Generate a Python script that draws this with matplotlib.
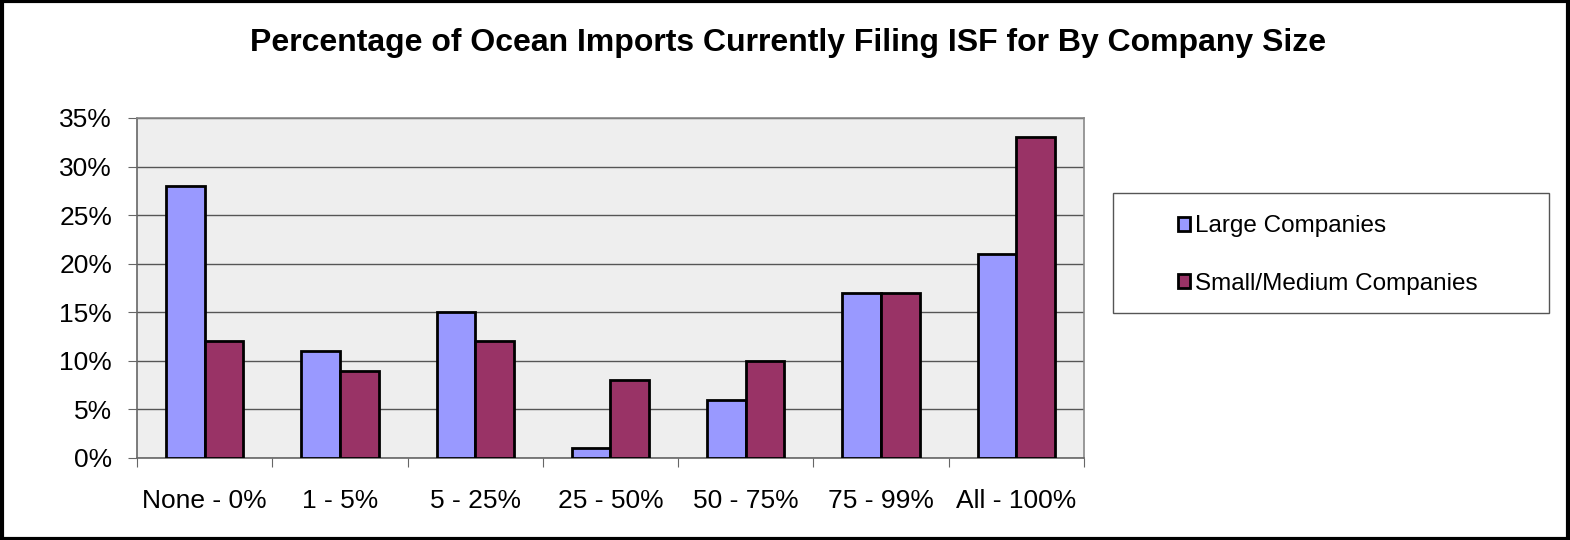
import matplotlib
matplotlib.use("Agg")
import matplotlib.pyplot as plt
import numpy as np
from matplotlib.patches import Rectangle

categories = ["None - 0%", "1 - 5%", "5 - 25%", "25 - 50%", "50 - 75%", "75 - 99%", "All - 100%"]
large = [28, 11, 15, 1, 6, 17, 21]
small_medium = [12, 9, 12, 8, 10, 17, 33]
series_names = ["Large Companies", "Small/Medium Companies"]
yticks = [0, 5, 10, 15, 20, 25, 30, 35]

plt.rcParams['font.family'] = ['Liberation Sans', 'DejaVu Sans']

fig = plt.figure(figsize=(15.7, 5.4), dpi=100)
ax = fig.add_axes([0.0873, 0.1519, 0.6031, 0.6296])
ax.set_facecolor("#EEEEEE")

x = np.arange(len(categories))
w = 0.285
b1 = ax.bar(x - w/2, large, w, color="#9999FF", edgecolor="black", linewidth=2, label=series_names[0], zorder=3)
b2 = ax.bar(x + w/2, small_medium, w, color="#993366", edgecolor="black", linewidth=2, label=series_names[1], zorder=3)

ax.set_xlim(-0.5, len(categories) - 0.5)
ax.set_ylim(0, 35)
ax.set_yticks(yticks)
ax.set_yticklabels([f"{v}%" for v in yticks], fontsize=19)
ax.yaxis.grid(True, color="#555555", linewidth=1, zorder=0)
ax.set_axisbelow(True)

ax.set_xticks(np.arange(len(categories) + 1) - 0.5)
ax.set_xticklabels([])
ax.set_xticks(x, minor=True)
ax.set_xticklabels(categories, minor=True, fontsize=19)
ax.tick_params(axis='x', which='minor', length=0, pad=22.5)
ax.tick_params(axis='x', which='major', length=6.5, color="#666666", direction='out')
ax.tick_params(axis='y', length=6.5, color="#666666", direction='out', pad=11.5)

for s in ["top", "right"]:
    ax.spines[s].set_color("#888888")
for s in ["left", "bottom"]:
    ax.spines[s].set_color("#666666")
for s in ax.spines.values():
    s.set_linewidth(1.2)

fig.text(0.502, 0.921, "Percentage of Ocean Imports Currently Filing ISF for By Company Size",
         ha="center", va="center", fontsize=23, fontweight="bold")

# legend frame
fig.add_artist(Rectangle((1113/1570, (540-313)/540), (1549-1113)/1570, 120/540,
                         transform=fig.transFigure, fill=True, facecolor="white",
                         edgecolor="#555555", linewidth=1))
leg = fig.legend(handles=[b1, b2], loc="center left", bbox_to_anchor=(1178/1570, (540-255)/540),
                 fontsize=17.5, frameon=False,
                 handlelength=0.48, handleheight=0.48, handletextpad=0.22, labelspacing=1.45,
                 borderpad=0, borderaxespad=0)

fig.add_artist(Rectangle((0.001, 0.002), 0.998, 0.996, transform=fig.transFigure,
                         fill=False, edgecolor="black", linewidth=3))

fig.savefig("out.png", dpi=100)
